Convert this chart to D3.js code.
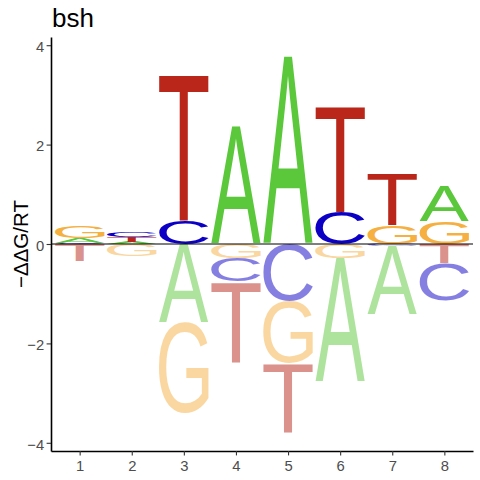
<!DOCTYPE html>
<html><head><meta charset="utf-8">
<script src="https://cdn.jsdelivr.net/npm/d3@7"></script>
<style>body{margin:0;background:#fff}</style>
</head><body>
<svg id="c" width="480" height="480" xmlns="http://www.w3.org/2000/svg"></svg>
<script>
// ---- data ----
const positions = [1, 2, 3, 4, 5, 6, 7, 8];
const letters = ["A", "C", "G", "T"];
const valA = [0.09, 0.046, -1.58, 2.37, 3.78, -2.48, -1.37, 0.70];
const valC = [0.02, 0.105, 0.48, -0.47, -1.15, 0.65, -0.04, -0.75];
const valG = [0.23, -0.24, -1.83, -0.29, -1.25, -0.29, 0.38, 0.45];
const valT = [-0.34, 0.10, 2.94, -1.61, -1.38, 2.13, 1.03, -0.38];
const yTicks = [-4, -2, 0, 2, 4];
const xTickLabels = ["1", "2", "3", "4", "5", "6", "7", "8"];
const titleText = "bsh";
const yTitle = "\u2212\u0394\u0394G/RT";
const colors = {A: "#5BC83C", C: "#0B00C4", G: "#F5B041", T: "#BA2619"};

const values = {A: valA, C: valC, G: valG, T: valT};

const svg = d3.select("#c");
const x = d3.scaleLinear().domain([0.45, 8.55]).range([51, 473]);
const y = d3.scaleLinear().domain([-4.165, 4.165]).range([451, 37]);
const colWidth = 0.95;

const FS = 200;
const FONT_FAMILY = "Liberation Sans";
const FONT_WEIGHT = 400;

function draw() {
  const ctx = document.createElement("canvas").getContext("2d");
  ctx.font = `${FONT_WEIGHT} ${FS}px "${FONT_FAMILY}"`;
  const met = {};
  letters.forEach(l => {
    const m = ctx.measureText(l);
    met[l] = {L: m.actualBoundingBoxLeft, R: m.actualBoundingBoxRight,
              A: m.actualBoundingBoxAscent, D: m.actualBoundingBoxDescent};
  });

  // build stacked boxes
  const boxes = [];
  positions.forEach((p, i) => {
    const items = letters.map(l => ({l, v: values[l][i]}));
    const pos = items.filter(d => d.v > 0).sort((a, b) => a.v - b.v);
    const neg = items.filter(d => d.v < 0).sort((a, b) => b.v - a.v);
    let acc = 0;
    pos.forEach(d => { boxes.push({p, l: d.l, y0: acc, y1: acc + d.v, neg: false}); acc += d.v; });
    acc = 0;
    neg.forEach(d => { boxes.push({p, l: d.l, y0: acc + d.v, y1: acc, neg: true}); acc += d.v; });
  });

  const g = svg.append("g").attr("class", "logo");
  g.selectAll("text").data(boxes).join("text")
    .text(d => d.l)
    .attr("font-family", FONT_FAMILY)
    .attr("font-weight", FONT_WEIGHT)
    .attr("font-size", FS)
    .attr("fill", d => colors[d.l])
    .attr("fill-opacity", d => d.neg ? 0.5 : 1)
    .attr("transform", d => {
      const m = met[d.l];
      const x0 = x(d.p - colWidth / 2), x1 = x(d.p + colWidth / 2);
      const yt = y(d.y1), yb = y(d.y0);
      const sx = (x1 - x0) / (m.L + m.R), sy = (yb - yt) / (m.A + m.D);
      return `translate(${x0},${yt}) scale(${sx},${sy}) translate(${m.L},${m.A})`;
    });

  // zero line
  svg.append("line")
    .attr("x1", x.range()[0]).attr("x2", x.range()[1])
    .attr("y1", y(0)).attr("y2", y(0))
    .attr("stroke", "#000").attr("stroke-width", 1.1);

  // axes
  const yAxis = d3.axisLeft(y).tickValues(yTicks).tickSize(4.4).tickSizeOuter(0).tickPadding(2.4)
    .tickFormat(d3.format("d"));
  const ya = svg.append("g").attr("transform", `translate(${x.range()[0]},0)`).call(yAxis);
  const xAxis = d3.axisBottom(x).tickValues(positions).tickSize(4.4).tickSizeOuter(0).tickPadding(5)
    .tickFormat((d, i) => xTickLabels[i]);
  const xa = svg.append("g").attr("transform", `translate(0,${y.range()[0]})`).call(xAxis);

  [ya, xa].forEach(a => {
    a.select(".domain").attr("stroke", "#000").attr("stroke-width", 1.6);
    a.selectAll(".tick line").attr("stroke", "#333").attr("stroke-width", 1.1);
    a.selectAll(".tick text").attr("fill", "#4D4D4D")
      .attr("font-family", "Liberation Sans, Arial, sans-serif").attr("font-size", 14.8);
  });
  ya.selectAll(".tick text").attr("dy", "0.42em");

  // titles
  svg.append("text").text(titleText)
    .attr("x", 52).attr("y", 27)
    .attr("font-family", "Liberation Sans, Arial, sans-serif")
    .attr("font-size", 26).attr("fill", "#000");

  svg.append("text").text(yTitle)
    .attr("transform", `translate(28,${(y.range()[0] + y.range()[1]) / 2}) rotate(-90)`)
    .attr("text-anchor", "middle")
    .attr("font-family", "Liberation Sans, Arial, sans-serif")
    .attr("font-size", 20.5).attr("fill", "#000");
}

if (document.fonts && document.fonts.load) {
  document.fonts.load(`${FONT_WEIGHT} ${FS}px "${FONT_FAMILY}"`).then(draw, draw);
} else { draw(); }
</script>
</body></html>
